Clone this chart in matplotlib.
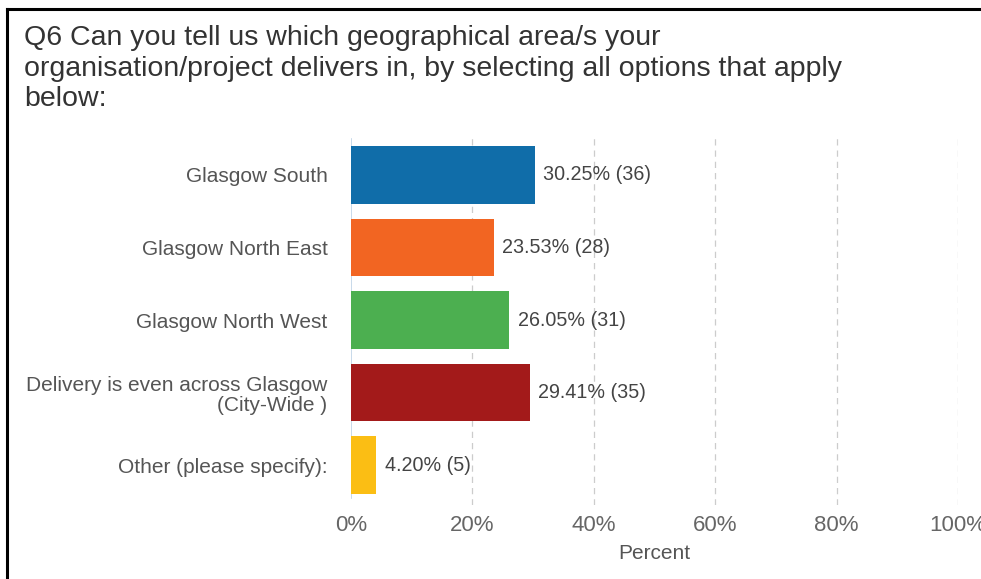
import matplotlib
matplotlib.use("Agg")
import matplotlib.pyplot as plt
from matplotlib.lines import Line2D

categories = [
    "Glasgow South",
    "Glasgow North East",
    "Glasgow North West",
    "Delivery is even across Glasgow\n(City-Wide )",
    "Other (please specify):",
]
percents = [30.25, 23.53, 26.05, 29.41, 4.20]
counts = [36, 28, 31, 35, 5]
colors = ["#106DA9", "#F26522", "#4CAF50", "#A31A1A", "#FBBE14"]
xticks = [0, 20, 40, 60, 80, 100]
xtick_labels = ["0%", "20%", "40%", "60%", "80%", "100%"]

plt.rcParams["font.family"] = ["Liberation Sans", "DejaVu Sans"]
text_color = "#555555"

fig = plt.figure(figsize=(9.81, 5.79), dpi=100)
W, H = 981, 579

ax = fig.add_axes([351 / W, 1 - 505 / H, 607 / W, 370 / H])
ypos = list(range(len(categories)))
ax.barh(ypos, percents, height=0.79, color=colors, zorder=3)
for y, p, c in zip(ypos, percents, counts):
    ax.text(p + 1.4, y, f"{p:.2f}% ({c})", va="center", ha="left",
            fontsize=14.2, color="#444444", zorder=4)

ax.set_xlim(0, 100)
ax.set_ylim(len(categories) - 0.45, -0.55)
ax.set_yticks(ypos)
ax.set_yticklabels(categories, fontsize=15, color=text_color, linespacing=1.1)
ax.set_xticks(xticks)
ax.set_xticklabels(xtick_labels, fontsize=16, color="#666666")
ax.tick_params(axis="both", length=0)
ax.tick_params(axis="y", pad=17)
ax.tick_params(axis="x", pad=7)
ax.set_xlabel("Percent", fontsize=15, color="#555555", labelpad=6)

for s in ax.spines.values():
    s.set_visible(False)
for x in xticks[1:]:
    ax.axvline(x, color="#CCCCCC", linestyle=(0, (5, 4)), linewidth=0.9, zorder=1)
ax.plot([0, 0], [-0.5, 4.45], color="#BFD3E6", linewidth=1.2, zorder=2)

fig.text(24 / W, 1 - 25 / H,
         "Q6 Can you tell us which geographical area/s your\n"
         "organisation/project delivers in, by selecting all options that apply\n"
         "below:",
         fontsize=20.5, color="#333333", va="top", ha="left", linespacing=1.23)

# frame around the panel
fig.add_artist(Line2D([7 / W, 7 / W], [0, 1 - 9 / H], transform=fig.transFigure,
                      color="black", linewidth=2.2))
fig.add_artist(Line2D([7 / W, 1], [1 - 9 / H, 1 - 9 / H], transform=fig.transFigure,
                      color="black", linewidth=2.2))

fig.savefig("out.png", dpi=100, facecolor="white")
